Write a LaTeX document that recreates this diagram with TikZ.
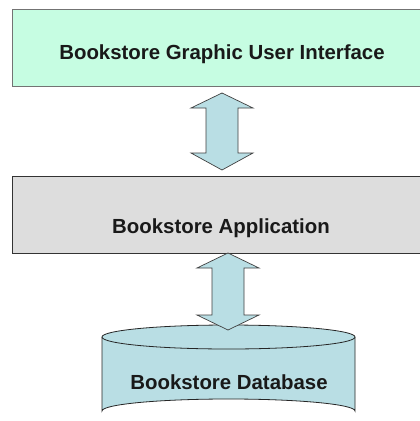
\documentclass[tikz,border=0pt]{standalone}
\usepackage{fontspec}
\setmainfont{Liberation Sans}
\begin{document}
\begin{tikzpicture}[x=1pt,y=-1pt,
  lbl/.style={font=\fontsize{20.4}{24}\selectfont\bfseries, inner sep=0pt, anchor=base, text=black!90},
  boxA/.style={draw=black!55, fill=guigreen, line width=0.8pt},
  boxB/.style={draw=black!80, fill=appgray, line width=0.8pt},
  blk/.style={draw=black!75, fill=arrowblue, line width=0.7pt, line join=miter},
  dbst/.style={draw=black!85, fill=arrowblue, line width=0.8pt}]
\definecolor{guigreen}{RGB}{198,253,226}
\definecolor{appgray}{RGB}{221,221,221}
\definecolor{arrowblue}{RGB}{185,222,228}
\useasboundingbox (0,0) rectangle (420,421);
\fill[white] (0,0) rectangle (420,421);
% boxes
\draw[boxA] (12,9) rectangle (425,86);
\node[lbl] (gui) at (222,59) {Bookstore Graphic User Interface};
\draw[boxB] (12,176) rectangle (425,253);
\node[lbl] (app) at (221,233) {Bookstore Application};
% database cylinder
\draw[dbst] (102,337) -- (102,411) arc[start angle=180, end angle=360, x radius=126.5, y radius=12] -- (355,337);
\draw[dbst] (228.5,337) ellipse[x radius=126.5, y radius=12];
\node[lbl] (db) at (229,389) {Bookstore Database};
% arrow 1
\draw[blk] (222,93) -- (253,108) -- (238,108) -- (238,153) -- (253,153) -- (222,170)
  -- (191,153) -- (206,153) -- (206,108) -- (191,108) -- cycle;
% arrow 2
\draw[blk] (228,253) -- (259,268) -- (244,268) -- (244,315) -- (259,315) -- (228,330)
  -- (197,315) -- (212,315) -- (212,268) -- (197,268) -- cycle;
\end{tikzpicture}
\end{document}
